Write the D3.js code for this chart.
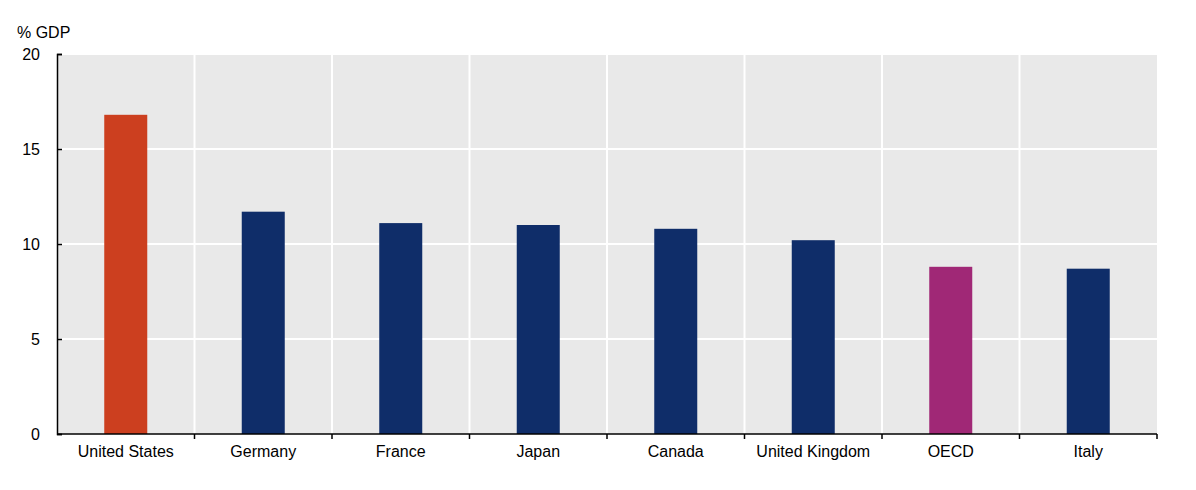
<!DOCTYPE html>
<html><head><meta charset="utf-8">
<script src="https://cdn.jsdelivr.net/npm/d3@7"></script>
<style>body{margin:0;background:#fff;}svg{display:block;font-family:"Liberation Sans",Arial,sans-serif;}</style>
</head><body>
<svg id="c" width="1196" height="490"></svg>
<script>
const categories = ["United States","Germany","France","Japan","Canada","United Kingdom","OECD","Italy"];
const values = [16.8,11.7,11.1,11.0,10.8,10.2,8.8,8.7];
const barColors = ["#cc3f1f","#0f2d69","#0f2d69","#0f2d69","#0f2d69","#0f2d69","#a02876","#0f2d69"];
const yTicks = [0,5,10,15,20];
const yLabel = "% GDP";

const svg = d3.select("#c");
const m = {l:57, r:1157, t:54, b:434};
const x = d3.scaleBand().domain(categories).range([m.l,m.r]).paddingInner(0).paddingOuter(0);
const y = d3.scaleLinear().domain([0,20]).range([m.b,m.t]);

svg.append("rect").attr("x",m.l).attr("y",m.t).attr("width",m.r-m.l).attr("height",m.b-m.t).attr("fill","#e9e9e9");

svg.append("g").selectAll("line").data(yTicks.filter(d=>d>0)).join("line")
  .attr("x1",m.l).attr("x2",m.r).attr("y1",d=>y(d)).attr("y2",d=>y(d))
  .attr("stroke","#fff").attr("stroke-width",2);
const bounds = categories.slice(1).map(c=>x(c));
svg.append("g").selectAll("line").data(bounds).join("line")
  .attr("x1",d=>d).attr("x2",d=>d).attr("y1",m.t).attr("y2",m.b)
  .attr("stroke","#fff").attr("stroke-width",2);

const bw = 43;
svg.append("g").selectAll("rect").data(categories).join("rect")
  .attr("x",(d)=>x(d)+x.bandwidth()/2-bw/2)
  .attr("y",(d,i)=>y(values[i]))
  .attr("width",bw)
  .attr("height",(d,i)=>y(0)-y(values[i]))
  .attr("fill",(d,i)=>barColors[i]);

const ya = svg.append("g").attr("transform",`translate(${m.l},0)`)
  .call(d3.axisLeft(y).tickValues(yTicks).tickSize(-5).tickPadding(17));
ya.select(".domain").attr("stroke","#000").attr("stroke-width",1.5);
ya.selectAll(".tick line").attr("stroke","#000").attr("stroke-width",1.5);
ya.selectAll(".tick text").attr("font-size","16px").attr("fill","#000").attr("font-family","'Liberation Sans',Arial,sans-serif");

svg.append("line").attr("x1",m.l).attr("x2",m.r).attr("y1",m.b).attr("y2",m.b).attr("stroke","#000").attr("stroke-width",1.5);
const xt = [m.l, ...bounds, m.r];
svg.append("g").selectAll("line").data(xt.slice(1)).join("line")
  .attr("x1",d=>d).attr("x2",d=>d).attr("y1",m.b).attr("y2",m.b+5)
  .attr("stroke","#000").attr("stroke-width",1.5);
svg.append("g").selectAll("text").data(categories).join("text")
  .attr("x",d=>x(d)+x.bandwidth()/2).attr("y",457)
  .attr("text-anchor","middle").attr("font-size","16px").attr("fill","#000")
  .text(d=>d);

svg.append("text").attr("x",17).attr("y",38).attr("font-size","16px").attr("fill","#000").text(yLabel);
</script>
</body></html>
